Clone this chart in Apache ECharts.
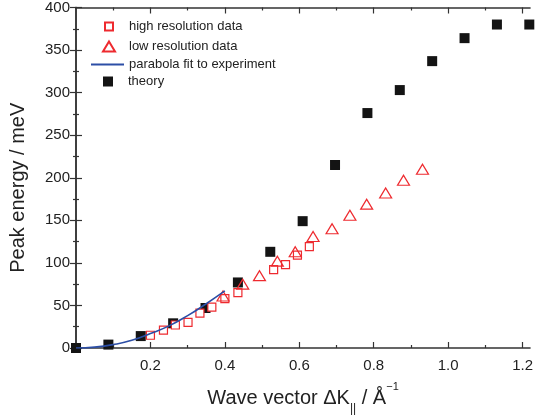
<!DOCTYPE html>
<html>
<head>
<meta charset="utf-8">
<script src="https://cdn.jsdelivr.net/npm/echarts@6/dist/echarts.min.js"></script>
<style>
html,body{margin:0;padding:0;background:#fff;}
#c{width:536px;height:420px;}
</style>
</head>
<body>
<div id="c"></div>
<script>
// ---- data ----
var theoryX = [0, 0.087, 0.174, 0.261, 0.348, 0.435, 0.522, 0.609, 0.696, 0.783, 0.870, 0.957, 1.044, 1.131, 1.218];
var theoryY = [0, 4, 14, 29, 47, 77, 113, 149, 215, 276, 303, 337, 364, 380, 380];

var highX = [0.200, 0.235, 0.267, 0.301, 0.333, 0.365, 0.400, 0.435, 0.531, 0.563, 0.595, 0.627];
var highY = [15, 21, 27, 30, 41, 48, 58, 65, 92, 98, 109, 119];

var lowX = [0.395, 0.448, 0.493, 0.541, 0.589, 0.637, 0.688, 0.736, 0.781, 0.832, 0.880, 0.931];
var lowY = [61, 75, 85, 102, 113, 131, 140, 156, 169, 182, 197, 210];

var fitX = [0, 0.05, 0.10, 0.15, 0.20, 0.25, 0.30, 0.35, 0.40];
var fitY = [0, 1, 4, 9, 17, 26, 38, 52, 67];

var xMajorTicks = [0.2, 0.4, 0.6, 0.8, 1.0, 1.2];
var xMinorTicks = [0.1, 0.3, 0.5, 0.7, 0.9, 1.1];
var seriesNames = ['high resolution data', 'low resolution data', 'parabola fit to experiment', 'theory'];

function pairs(xs, ys){ return xs.map(function(x,i){ return [x, ys[i]]; }); }

var FONT = "'Liberation Sans', Arial, Helvetica, sans-serif";
var AX = '#333333';
var RED = '#ee2a2f';
var BLUE = '#2c4ea6';
var BLK = '#141414';
var TXT = '#222222';

var chart = echarts.init(document.getElementById('c'), null, {renderer:'canvas'});

function xAxisDef(pos, ticks, len, showLabel, showLine, name){
  var a = {
    type:'value', position:pos, min:0, max:1.22,
    axisLine:{show:showLine, onZero:false, lineStyle:{color:AX, width:1.5}},
    axisTick:{show:true, inside:true, length:len, customValues:ticks, lineStyle:{color:AX, width:1.2}},
    minorTick:{show:false},
    splitLine:{show:false},
    axisLabel:{show:showLabel, customValues:ticks, margin:10, color:TXT, fontSize:15, fontFamily:FONT,
      formatter:function(v){ return v.toFixed(1); }}
  };
  if(name){
    a.name = name;
    a.nameLocation = 'middle';
    a.nameGap = 33;
    a.nameTextStyle = {
      color:TXT, fontFamily:FONT,
      rich:{
        a:{fontSize:20, fontFamily:FONT, color:TXT, lineHeight:34, verticalAlign:'middle'},
        s:{fontSize:12, fontFamily:FONT, color:TXT, lineHeight:12, verticalAlign:'bottom'},
        p:{fontSize:11, fontFamily:FONT, color:TXT, lineHeight:17, verticalAlign:'top'}
      }
    };
  }
  return a;
}

function yAxisDef(pos, showLabel, name){
  var a = {
    type:'value', position:pos, min:0, max:400, interval:50,
    axisLine:{show:true, lineStyle:{color:AX, width:1.5}},
    axisTick:{show:true, inside:true, length:6, lineStyle:{color:AX, width:1.2}},
    minorTick:{show:true, splitNumber:2, length:3, lineStyle:{color:AX, width:1.2}},
    splitLine:{show:false},
    axisLabel:{show:showLabel, margin:6, color:TXT, fontSize:15, fontFamily:FONT}
  };
  if(name){
    a.name = name;
    a.nameLocation = 'middle';
    a.nameGap = 48;
    a.nameTextStyle = {fontSize:20, color:TXT, fontFamily:FONT, padding:[0,20,0,0]};
  }
  return a;
}

function legendDef(name, top, left, w, h, textPadLeft, icon){
  var item = icon ? {name:name, icon:icon} : name;
  return {
    orient:'vertical', left:left, top:top, padding:0,
    itemWidth:w, itemHeight:h, data:[item],
    textStyle:{fontSize:13, color:TXT, fontFamily:FONT, padding:[0,0,0,textPadLeft]}
  };
}

var option = {
  backgroundColor:'#ffffff',
  animation:false,
  grid:{left:74, right:4, top:7, bottom:71, containLabel:false},
  legend:[
    legendDef(seriesNames[0], 20, 104, 8, 8, 11),
    legendDef(seriesNames[1], 40, 102, 12, 10, 9),
    legendDef(seriesNames[2], 58, 91, 33, 2, 0, 'rect'),
    legendDef(seriesNames[3], 75, 103, 10, 10, 10)
  ],
  xAxis:[
    xAxisDef('bottom', xMajorTicks, 6, true, true, '{a|Wave vector ΔK}{s|||}{a| / Å}{p|−1}'),
    xAxisDef('bottom', xMinorTicks, 3, false, false),
    xAxisDef('top', xMajorTicks, 6, false, true),
    xAxisDef('top', xMinorTicks, 3, false, false)
  ],
  yAxis:[
    yAxisDef('left', true, 'Peak energy / meV'),
    yAxisDef('right', false)
  ],
  series:[
    {
      name:seriesNames[0], type:'scatter', xAxisIndex:0, yAxisIndex:0,
      symbol:'rect', symbolSize:8, clip:false, z:3,
      itemStyle:{color:'#ffffff', borderColor:RED, borderWidth:1.2, opacity:1},
      data:pairs(highX, highY)
    },
    {
      name:seriesNames[1], type:'scatter', xAxisIndex:0, yAxisIndex:0,
      symbol:'triangle', symbolSize:[12,10], clip:false, z:4,
      itemStyle:{color:'rgba(255,255,255,0)', borderColor:RED, borderWidth:1.2, opacity:1},
      data:pairs(lowX, lowY)
    },
    {
      name:seriesNames[2], type:'line', xAxisIndex:0, yAxisIndex:0,
      smooth:true, symbol:'none', showSymbol:false, z:5,
      lineStyle:{color:BLUE, width:1.6},
      itemStyle:{color:BLUE},
      data:pairs(fitX, fitY)
    },
    {
      name:seriesNames[3], type:'scatter', xAxisIndex:0, yAxisIndex:0,
      symbol:'rect', symbolSize:10, clip:false, z:2,
      itemStyle:{color:BLK, opacity:1},
      data:pairs(theoryX, theoryY)
    }
  ]
};
chart.setOption(option);
</script>
</body>
</html>
